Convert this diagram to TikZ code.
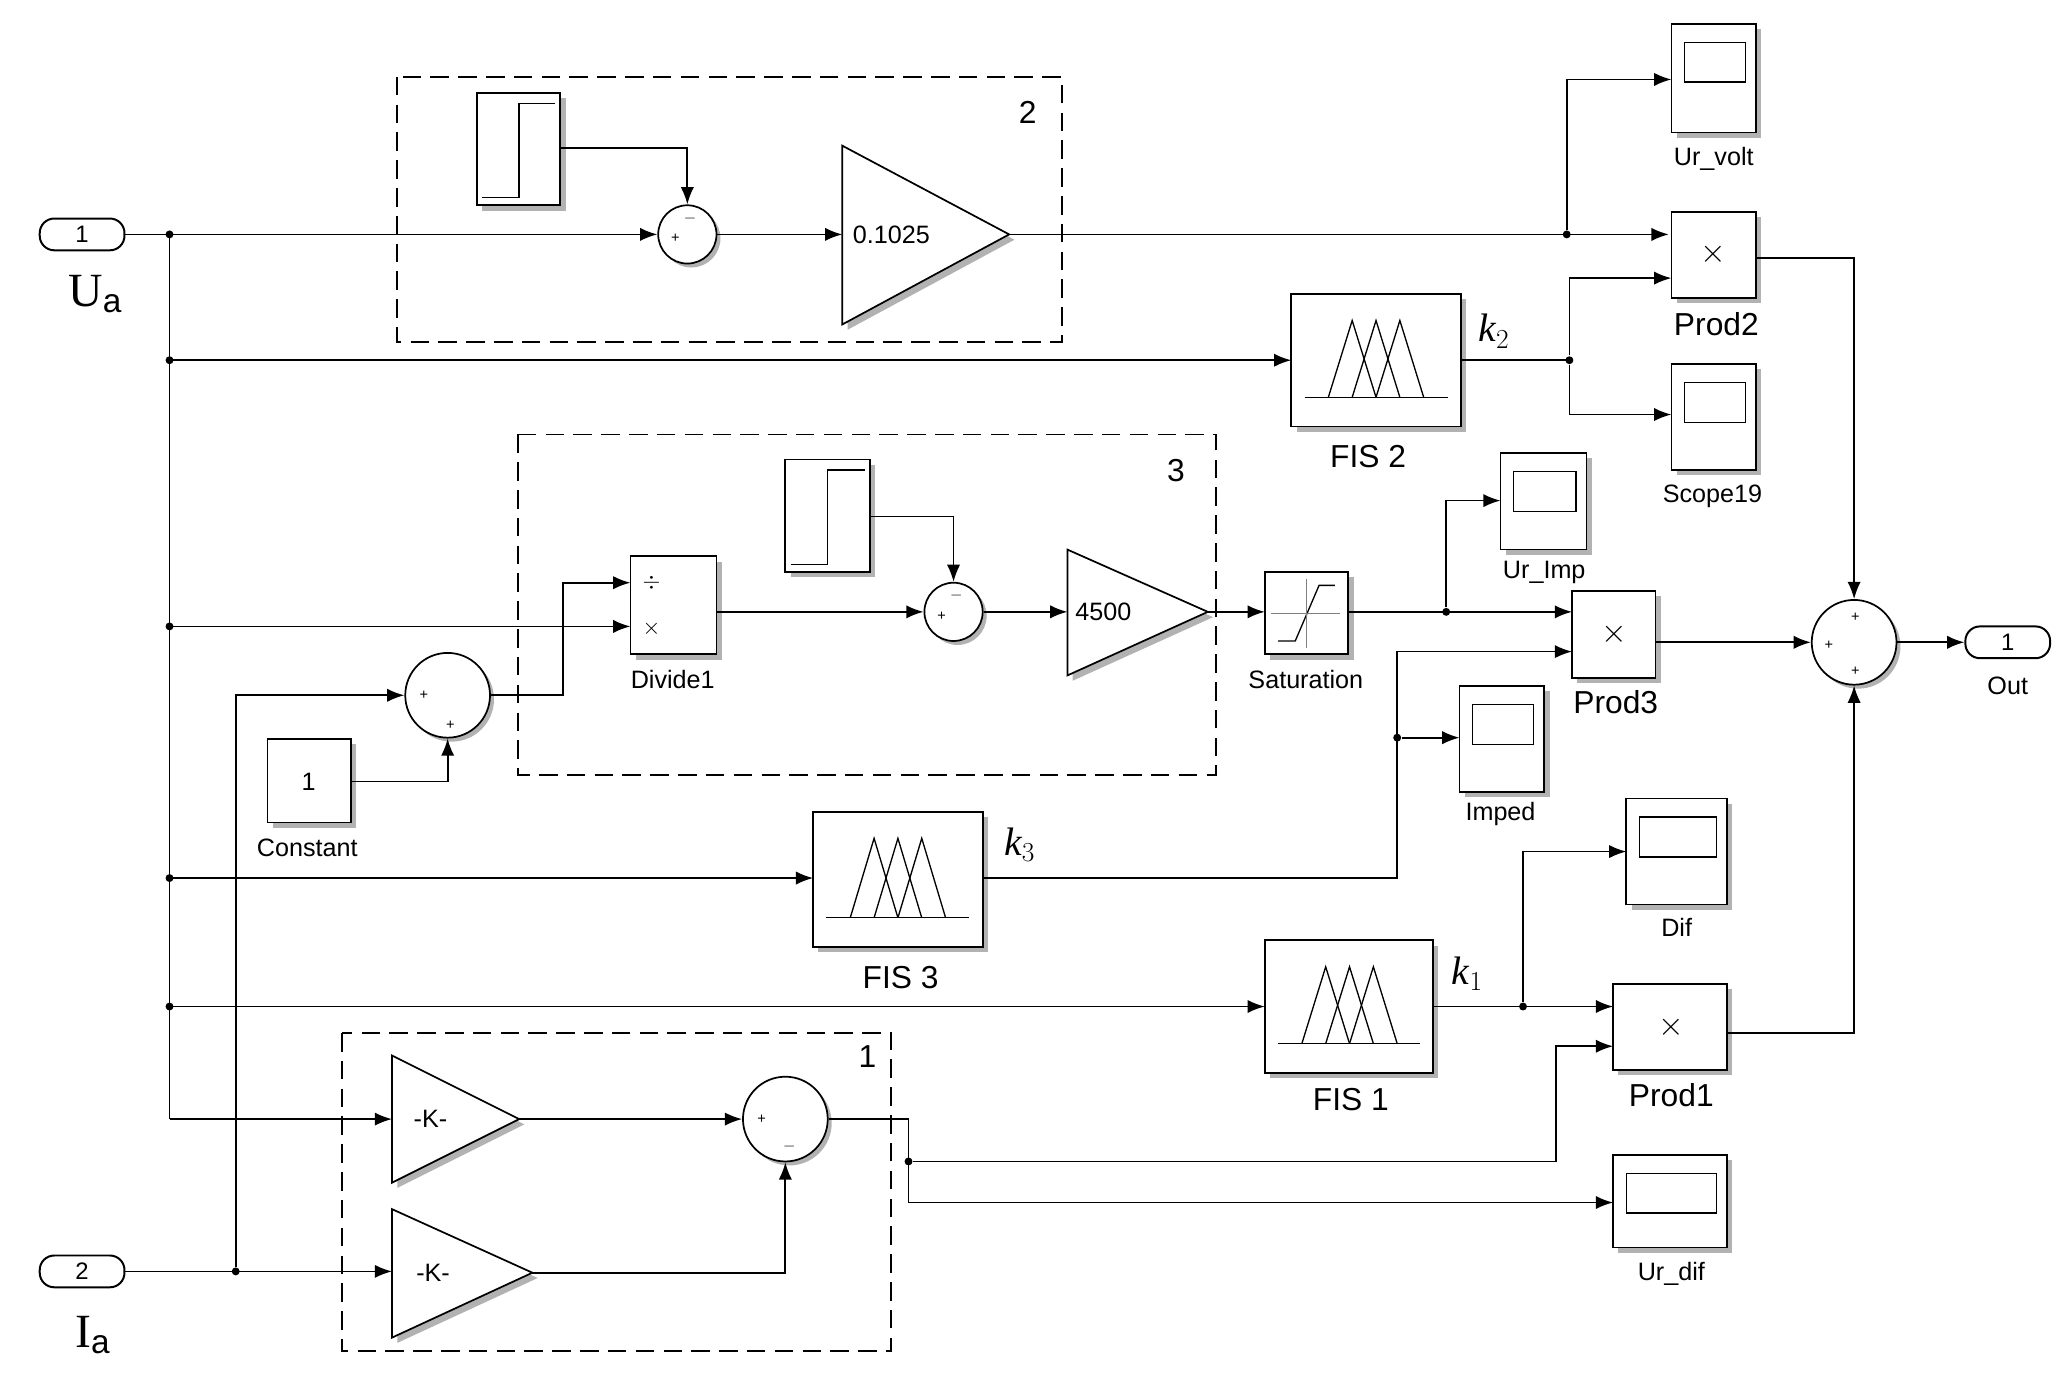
\documentclass[tikz,border=0pt]{standalone}
\usepackage{fontspec}
\setmainfont{Liberation Sans}
\newfontfamily\serif{Liberation Serif}
\usetikzlibrary{arrows.meta}
\begin{document}
\begin{tikzpicture}[x=1pt,y=-1pt,line width=1.3pt,
 ar/.style={-{Latex[length=13pt,width=10pt]}},
 blk/.style={draw,fill=white,line width=1.3pt},
 shd/.style={fill=gray!60,draw=none},
 dsh/.style={dash pattern=on 14pt off 7pt,line width=1.3pt},
 lab/.style={font=\fontsize{19}{19}\selectfont},
 big/.style={font=\fontsize{24}{24}\selectfont},
 dot/.style={circle,fill,inner sep=0pt,minimum size=6pt},
 port/.style={draw,rounded corners=11pt,minimum width=64pt,minimum height=24pt,inner sep=0pt,font=\fontsize{18}{18}\selectfont,line width=1.5pt}]
\useasboundingbox (0,0) rectangle (1560,1040);
% macros
\newcommand{\blkbox}[5]{\fill[shd] (#2+4,#3+4) rectangle (#4+4,#5+4);\draw[blk] (#2,#3) rectangle (#4,#5) node[pos=0.5](#1){};}
\newcommand{\scp}[5]{\blkbox{#1}{#2}{#3}{#4}{#5}\draw[line width=1pt] (#2+10,#3+14) rectangle (#4-8,#3+44);}
\newcommand{\stepblk}[5]{\blkbox{#1}{#2}{#3}{#4}{#5}\draw[line width=1pt] (#2+4,#5-6) -- (#2+32,#5-6) -- (#2+32,#3+8) -- (#4-4,#3+8);}
\newcommand{\fis}[5]{\blkbox{#1}{#2}{#3}{#4}{#5}
 \foreach \o in {0,18,36}{\draw[line width=1pt] (#2+28+\o,#5-22) -- (#2+46+\o,#3+20) -- (#2+64+\o,#5-22);}
 \draw[line width=1pt] (#2+10,#5-22) -- (#4-10,#5-22);}
% ports
\node[port] (in1) at (62,177) {1};
\node[port] (in2) at (62,960) {2};
\node[port] (out) at (1516,485) {1};
\node[font=\serif\fontsize{36}{36}\selectfont] at (72,222) {U$_{\mathrm a}$};
\node[font=\serif\fontsize{36}{36}\selectfont] at (70,1008) {I$_{\mathrm a}$};
\node[lab] at (1516,518) {Out};
% dashed boxes
\draw[dsh] (300,58) rectangle (802,258);
\node[big] at (776,85) {2};
\draw[dsh] (391,328) rectangle (918,585);
\node[big] at (888,355) {3};
\draw[dsh] (258,780) rectangle (673,1020);
\node[big] at (655,798) {1};
% blocks
\stepblk{st2}{360}{70}{423}{155}
\stepblk{st3}{593}{347}{657}{432}
\scp{urv}{1262}{18}{1326}{100} \node[lab] at (1294,120) {Ur\_volt};
\blkbox{p2}{1262}{160}{1326}{225} \node[big] at (1294,192) {$\times$}; \node[big] at (1296,245) {Prod2};
\scp{s19}{1262}{275}{1326}{355} \node[lab] at (1293,375) {Scope19};
\fis{f2}{975}{222}{1103}{322} \node[big] at (1033,345) {FIS 2};
\node[font=\serif\itshape\fontsize{30}{30}\selectfont] at (1128,250) {k$_2$};
\blkbox{div}{476}{420}{541}{494} \node[font=\fontsize{16}{16}\selectfont] at (492,440){$\div$}; \node[font=\fontsize{16}{16}\selectfont] at (492,475){$\times$};
\node[lab] at (508,513) {Divide1};
\blkbox{cst}{202}{558}{265}{621} \node[lab] at (233,590) {1}; \node[lab] at (232,640) {Constant};
\blkbox{sat}{955}{432}{1018}{494} \node[lab] at (986,513) {Saturation};
\draw[line width=1pt] (965,484)--(978,484)--(996,442)--(1008,442); \draw[line width=0.5pt,gray] (986,437)--(986,489) (960,463)--(1012,463);
\scp{uri}{1133}{342}{1198}{415} \node[lab] at (1166,432) {Ur\_Imp};
\blkbox{p3}{1187}{446}{1250}{512} \node[big] at (1219,479) {$\times$}; \node[big] at (1220,530) {Prod3};
\scp{imp}{1102}{518}{1166}{598} \node[lab] at (1133,615) {Imped};
\fis{f3}{614}{613}{742}{715} \node[big] at (680,738) {FIS 3};
\node[font=\serif\itshape\fontsize{30}{30}\selectfont] at (770,638) {k$_3$};
\fis{f1}{955}{710}{1082}{810} \node[big] at (1020,830) {FIS 1};
\node[font=\serif\itshape\fontsize{30}{30}\selectfont] at (1108,735) {k$_1$};
\scp{dif}{1228}{603}{1304}{683} \node[lab] at (1266,700) {Dif};
\blkbox{p1}{1218}{743}{1304}{808} \node[big] at (1262,776) {$\times$}; \node[big] at (1262,827) {Prod1};
\scp{urd}{1218}{872}{1304}{942} \node[lab] at (1262,962) {Ur\_dif};
% gains
\fill[shd] (640,114)--(640,249)--(766,181)--cycle;
\draw[blk] (636,110)--(636,245)--(762,177)--cycle; \node[lab,anchor=west] at (640,177) {0.1025};
\fill[shd] (810,419)--(810,514)--(916,466)--cycle;
\draw[blk] (806,415)--(806,510)--(912,462)--cycle; \node[lab,anchor=west] at (808,462) {4500};
\fill[shd] (300,801)--(300,897)--(396,849)--cycle;
\draw[blk] (296,797)--(296,893)--(392,845)--cycle; \node[lab] at (325,845) {-K-};
\fill[shd] (300,917)--(300,1014)--(406,965)--cycle;
\draw[blk] (296,913)--(296,1010)--(402,961)--cycle; \node[lab] at (327,961) {-K-};
% sums
\newcommand{\sm}[4]{\fill[shd] (#2+3,#3+3) circle (#4); \node[draw,circle,fill=white,minimum size=2*#4 pt,inner sep=0pt,line width=1.3pt] (#1) at (#2,#3) {};}
\sm{s2}{519}{177}{22} \node[font=\fontsize{11}{11}\selectfont] at (510,180){+}; \node[font=\fontsize{12}{12}\selectfont] at (521,165){$-$};
\sm{s3}{720}{462}{22} \node[font=\fontsize{11}{11}\selectfont] at (711,465){+}; \node[font=\fontsize{12}{12}\selectfont] at (722,450){$-$};
\sm{sc}{338}{525}{32} \node[font=\fontsize{11}{11}\selectfont] at (320,525){+}; \node[font=\fontsize{11}{11}\selectfont] at (340,548){+};
\sm{s1}{593}{845}{32} \node[font=\fontsize{11}{11}\selectfont] at (575,845){+}; \node[font=\fontsize{12}{12}\selectfont] at (596,866){$-$};
\sm{so}{1400}{485}{32} \node[font=\fontsize{11}{11}\selectfont] at (1401,466){+}; \node[font=\fontsize{11}{11}\selectfont] at (1381,487){+}; \node[font=\fontsize{11}{11}\selectfont] at (1401,507){+};
% bus and dots
\coordinate (b1) at (128,177); \coordinate (b2) at (128,272); \coordinate (b3) at (128,473);
\coordinate (b4) at (128,663); \coordinate (b5) at (128,760); \coordinate (b6) at (128,845);
\draw (in1.east) -- (b1) -- (b6);
\foreach \p in {b1,b2,b3,b4,b5} \node[dot] at (\p) {};
% wires
\draw[ar] (b1) -- (s2.west);
\draw[ar] (423,112) -| (s2.north);
\draw[ar] (s2.east) -- (636,177);
\draw[ar] (762,177) -- (1260,177);
\node[dot] (d1) at (1183,177) {};
\draw[ar] (d1) |- (1262,60);
\draw[ar] (b2) -- (975,272);
\draw (1103,272) -- (1185,272); \node[dot] (d2) at (1185,272) {};
\draw[ar] (d2) |- (1262,210);
\draw[ar] (d2) |- (1262,313);
\draw[ar] (b3) -- (476,473);
\draw[ar] (sc.east) -- (425,525) |- (476,440);
\node[dot] (d3) at (178,960) {};
\draw[ar] (d3) -- (178,525) -- (sc.west);
\draw[ar] (265,590) -| (sc.south);
\draw[ar] (541,462) -- (s3.west);
\draw[ar] (657,390) -| (s3.north);
\draw[ar] (s3.east) -- (806,462);
\draw[ar] (912,462) -- (955,462);
\draw[ar] (1018,462) -- (1187,462);
\node[dot] (d4) at (1092,462) {};
\draw[ar] (d4) |- (1133,378);
\draw[ar] (742,663) -- (1055,663) |- (1187,492);
\node[dot] (d5) at (1055,557) {};
\draw[ar] (d5) -- (1102,557);
\draw[ar] (b4) -- (614,663);
\draw[ar] (1250,485) -- (so.west);
\draw[ar] (so.east) -- (out.west);
\draw[ar] (1326,195) -| (so.north);
\draw[ar] (1304,780) -| (so.south);
\draw[ar] (b5) -- (955,760);
\draw[ar] (1082,760) -- (1218,760);
\node[dot] (d6) at (1150,760) {};
\draw[ar] (d6) |- (1228,643);
\draw[ar] (b6) -- (296,845);
\draw[ar] (in2.east) -- (296,960);
\draw[ar] (392,845) -- (s1.west);
\draw[ar] (402,961) -| (s1.south);
\draw[ar] (s1.east) -- (686,845) |- (1218,908);
\node[dot] (d7) at (686,877) {};
\draw[ar] (d7) -- (1175,877) |- (1218,790);
\end{tikzpicture}
\end{document}
